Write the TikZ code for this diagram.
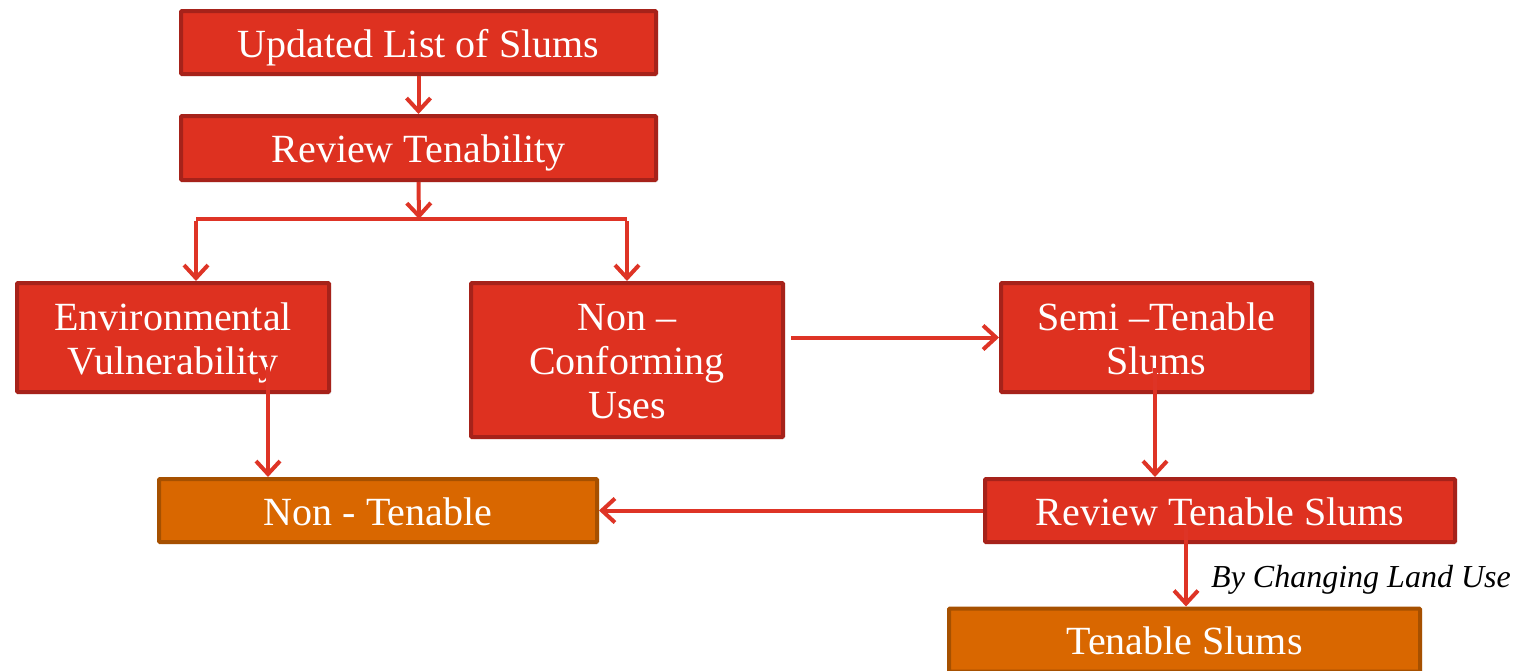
\documentclass[tikz,border=0pt]{standalone}
\usepackage{fontspec}
\setmainfont{Liberation Serif}
\usetikzlibrary{arrows.meta,shadows}
\definecolor{boxred}{HTML}{DE3120}
\definecolor{boxredline}{HTML}{A6221A}
\definecolor{boxorange}{HTML}{D96700}
\definecolor{boxorangeline}{HTML}{A65000}
\definecolor{arrred}{HTML}{DE3426}
\newcommand{\bxt}[1]{\raisebox{-12pt}[0pt][0pt]{\begin{tabular}{@{}c@{}}#1\end{tabular}}}
\begin{document}
\begin{tikzpicture}[x=1pt,y=-1pt,
  box/.style={draw=boxredline, fill=boxred, line width=4pt, rounded corners=1pt,
    text=white, inner sep=0pt,
    font=\fontsize{40}{44}\selectfont,
    drop shadow={opacity=0.25, shadow xshift=2pt, shadow yshift=-2pt}},
  obox/.style={box, draw=boxorangeline, fill=boxorange},
  arr/.style={draw=arrred, line width=4pt, -{Straight Barb[length=13pt,width=24pt,line width=4pt]}},
  ln/.style={draw=arrred, line width=4pt},
  lbl/.style={font=\itshape\fontsize{32}{36}\selectfont, text=black, anchor=west, inner sep=0pt}]
\useasboundingbox (0,0) rectangle (1525,670);

\node[box, minimum width=475pt, minimum height=63pt] (u) at (418.5,42.5) {\bxt{Updated List of Slums}};
\node[box, minimum width=475pt, minimum height=64pt] (r) at (418.5,148) {\bxt{Review Tenability}};
\node[box, minimum width=312pt, minimum height=109pt] (e) at (173,337.5) {\bxt{Environmental\\Vulnerability}};
\node[box, minimum width=312pt, minimum height=154pt] (nc) at (627,360) {\bxt{Non --\\Conforming\\Uses}};
\node[box, minimum width=311pt, minimum height=109pt] (st) at (1156.5,337.5) {\bxt{Semi --Tenable\\Slums}};
\node[obox, minimum width=438pt, minimum height=63pt] (nt) at (378,510.5) {\bxt{Non - Tenable}};
\node[box, minimum width=470pt, minimum height=63pt] (rt) at (1220,510.5) {\bxt{Review Tenable Slums}};
\node[obox, minimum width=471pt, minimum height=63pt] (ts) at (1184.5,640) {\bxt{Tenable Slums}};

\coordinate (j) at (419,219);
\coordinate (jl) at (196,219);
\coordinate (jr) at (627,219);
\coordinate (es) at (268,367);
\coordinate (ss) at (1155,368);
\coordinate (rs) at (1186,525);

\draw[arr] (u.south) -- (r.north);
\draw[arr] (r.south) -- (j);
\draw[ln] (jl) -- (jr);
\draw[arr] ([yshift=-2pt]jl) -- (jl |- e.north);
\draw[arr] ([yshift=-2pt]jr) -- (jr |- nc.north);
\draw[arr] (es) -- (es |- nt.north);
\draw[arr] ([xshift=6pt]nc.east |- st.west) -- (st.west);
\draw[arr] (ss) -- (ss |- rt.north);
\draw[arr] (rt.west) -- (nt.east);
\draw[arr] (rs) -- (rs |- ts.north);
\node[lbl] (lab) at (1211,580) {By Changing Land Use};
\end{tikzpicture}
\end{document}
